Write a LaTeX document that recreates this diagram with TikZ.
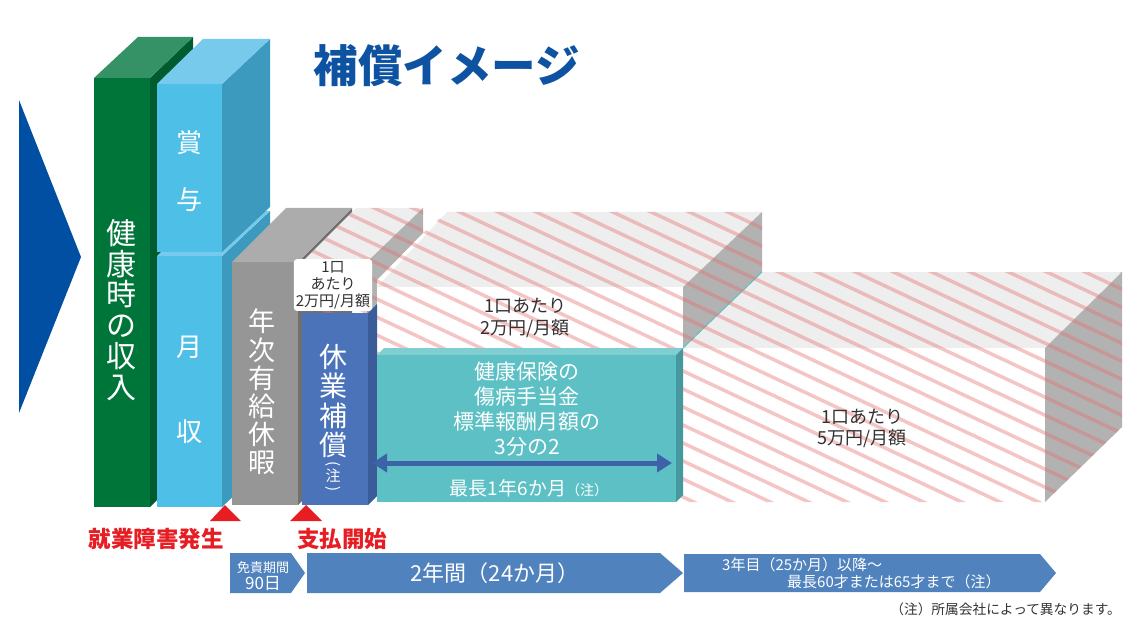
\documentclass[tikz,border=0pt]{standalone}
\usepackage{fontspec}
\setmainfont{Noto Sans CJK JP}
\usetikzlibrary{arrows.meta}
\definecolor{navy}{RGB}{0,79,162}
\definecolor{titleblue}{RGB}{14,82,162}
\definecolor{gF}{RGB}{0,117,58}
\definecolor{gT}{RGB}{52,146,102}
\definecolor{gS}{RGB}{0,92,46}
\definecolor{lbF}{RGB}{78,192,232}
\definecolor{lbT}{RGB}{120,202,236}
\definecolor{lbS}{RGB}{60,154,190}
\definecolor{grF}{RGB}{150,150,150}
\definecolor{grT}{RGB}{172,172,172}
\definecolor{grS}{RGB}{112,112,112}
\definecolor{bF}{RGB}{74,115,186}
\definecolor{bS}{RGB}{58,92,152}
\definecolor{tF}{RGB}{92,192,197}
\definecolor{tT}{RGB}{128,206,210}
\definecolor{tS}{RGB}{68,152,158}
\definecolor{hTop}{RGB}{238,238,238}
\definecolor{hSide}{RGB}{178,178,178}
\definecolor{hatchc}{RGB}{232,110,110}
\definecolor{arrowb}{RGB}{62,98,168}
\definecolor{chev}{RGB}{80,130,190}
\definecolor{redc}{RGB}{230,30,36}
\definecolor{txt}{RGB}{50,50,50}
\tikzset{
  wtext/.style={text=white, align=center, inner sep=0pt},
  lbl/.style={text=txt, align=center, inner sep=0pt},
  redlbl/.style={text=redc, inner sep=0pt, font=\fontsize{22.5}{24}\selectfont\bfseries},
  hatchline/.style={draw=hatchc, opacity=0.4, line width=3.5pt},
  dblarrow/.style={draw=arrowb, line width=5pt, {Triangle[length=15pt,width=18pt]}-{Triangle[length=15pt,width=18pt]}},
}
\begin{document}
\begin{tikzpicture}[x=1pt,y=-1pt]
\useasboundingbox (0,0) rectangle (1123,620);

% big left triangle
\fill[navy] (19,100) -- (81,257) -- (19,413) -- cycle;

% title
\node[text=titleblue, inner sep=0pt, font=\fontsize{44.5}{46}\selectfont\bfseries] (title) at (447,66) {補償イメージ};

% green block
\fill[gS] (150,78) -- (193,37) -- (193,464) -- (150,507) -- cycle;
\fill[gT] (94,78) -- (138,37) -- (193,37) -- (150,78) -- cycle;
\fill[gF] (94,78) rectangle (150,507);

% monthly block
\fill[lbS] (222,256) -- (270,211) -- (270,462) -- (222,507) -- cycle;
\fill[lbT] (157,256) -- (203,211) -- (270,211) -- (222,256) -- cycle;
\fill[lbF] (157,256) rectangle (222,507);

% bonus block
\fill[lbS] (222,84) -- (270,39) -- (270,207) -- (222,252) -- cycle;
\fill[lbT] (157,84) -- (203,39) -- (270,39) -- (222,84) -- cycle;
\fill[lbF] (157,84) rectangle (222,252);

% gray block
\fill[grS] (298,262) -- (352,208) -- (352,451) -- (298,505) -- cycle;
\fill[grT] (232,262) -- (286,208) -- (352,208) -- (298,262) -- cycle;
\fill[grF] (232,262) rectangle (298,505);

% hatched blocks
\fill[hTop] (302,262) -- (356,208) -- (423,208) -- (367,262) -- cycle;
\fill[hSide] (367,262) -- (423,208) -- (423,233) -- (377,280) -- (377,313) -- (367,313) -- cycle;
\fill[hTop] (377,287) -- (447,212) -- (762,212) -- (683,287) -- cycle;
\fill[white] (377,287) rectangle (683,348);
\fill[hSide] (683,287) -- (762,212) -- (762,272) -- (683,348) -- cycle;
\fill[hTop] (683,348) -- (762,272) -- (1122,272) -- (1045,348) -- cycle;
\fill[white] (683,348) rectangle (1045,502);
\fill[hSide] (1045,348) -- (1122,272) -- (1122,427) -- (1045,502) -- cycle;
\draw[tF, line width=1pt] (683,348) -- (762,272);
\begin{scope}
  \clip (302,262) -- (356,208) -- (423,208) -- (423,233) -- (447,212) -- (762,212) -- (762,272) -- (1122,272) -- (1122,427) -- (1045,502) -- (377,502) -- (377,313) -- (302,313) -- cycle;
  \foreach \c in {-400,-382,...,400}
    \draw[hatchline] (280,{0.47*280+\c}) -- (1130,{0.47*1130+\c});
\end{scope}

% blue block
\fill[bS] (368,313) -- (377,304) -- (377,496) -- (368,505) -- cycle;
\fill[bF] (302,313) rectangle (368,505);

% teal block
\fill[tT] (377,355) -- (384,348) -- (683,348) -- (676,355) -- cycle;
\fill[tS] (676,355) -- (683,348) -- (683,495) -- (676,502) -- cycle;
\fill[tF] (377,355) rectangle (676,502);

% red triangles
\fill[redc] (210,521) -- (225,505) -- (241,521) -- cycle;
\fill[redc] (290,521) -- (306,505) -- (322,521) -- cycle;

% texts on blocks
\node[wtext, font=\fontsize{30}{30.8}\selectfont] (kenko) at (121,310) {健\\康\\時\\の\\収\\入};
\node[wtext, font=\fontsize{26}{26}\selectfont] (sho) at (189,143) {賞};
\node[wtext, font=\fontsize{26}{26}\selectfont] (yo) at (189,200) {与};
\node[wtext, font=\fontsize{26}{26}\selectfont] (tsuki) at (189,347) {月};
\node[wtext, font=\fontsize{26}{26}\selectfont] (shu) at (189,432) {収};
\node[wtext, font=\fontsize{27}{28.2}\selectfont] (nenji) at (262,392) {年\\次\\有\\給\\休\\暇};
\node[wtext, font=\fontsize{28}{29.3}\selectfont] (kyugyo) at (333,401) {休\\業\\補\\償};
\node[wtext, rotate=-90, font=\fontsize{15}{15}\selectfont] (pl) at (333,464) {(};
\node[wtext, font=\fontsize{15}{15}\selectfont] (chu) at (333,476) {注};
\node[wtext, rotate=-90, font=\fontsize{15}{15}\selectfont] (pr) at (333,489) {)};

% labels
\node[lbl, fill=white, rounded corners=3pt, inner sep=2pt, font=\fontsize{15}{17}\selectfont] (l1) at (333,285) {1口\\あたり\\2万円/月額};
\node[lbl, font=\fontsize{18}{22}\selectfont] (l2) at (525,318) {1口あたり\\2万円/月額};
\node[lbl, font=\fontsize{18}{21}\selectfont] (l3) at (862,428) {1口あたり\\5万円/月額};

\node[wtext, font=\fontsize{21}{25}\selectfont] (teal) at (527,409) {健康保険の\\傷病手当金\\標準報酬月額の\\3分の2};
\coordinate (aL) at (372,463);
\coordinate (aR) at (672,463);
\draw[dblarrow] (aL) -- (aR);
\node[wtext, font=\fontsize{19}{20}\selectfont] (saicho) at (529,488) {最長1年6か月{\fontsize{14}{14}\selectfont（注）}};

% red labels
\node[redlbl] (hassei) at (156,539) {就業障害発生};
\node[redlbl] (shiharai) at (342,539) {支払開始};

% timeline chevrons
\fill[chev] (230,553) -- (291,553) -- (305,573) -- (291,593) -- (230,593) -- cycle;
\fill[chev] (307,553) -- (660,553) -- (683,573) -- (660,593) -- (307,593) -- cycle;
\fill[chev] (684,554) -- (1040,554) -- (1056,573) -- (1040,592) -- (684,592) -- cycle;
\node[wtext, font=\fontsize{13}{13}\selectfont] (menseki) at (263,568) {免責期間};
\node[wtext, font=\fontsize{17}{17}\selectfont] (kyujun) at (263,584) {90日};
\node[wtext, font=\fontsize{22}{22}\selectfont] (ninen) at (495,573) {2年間（24か月）};
\node[wtext, anchor=west, font=\fontsize{15}{15}\selectfont] (sannen) at (722,565) {3年目（25か月）以降～};
\node[wtext, anchor=west, font=\fontsize{15}{15}\selectfont] (rokuju) at (787,582) {最長60才または65才まで（注）};

% footnote
\node[lbl, anchor=east, font=\fontsize{13.7}{14}\selectfont] (note) at (1121,609) {（注）所属会社によって異なります。};
\end{tikzpicture}
\end{document}
